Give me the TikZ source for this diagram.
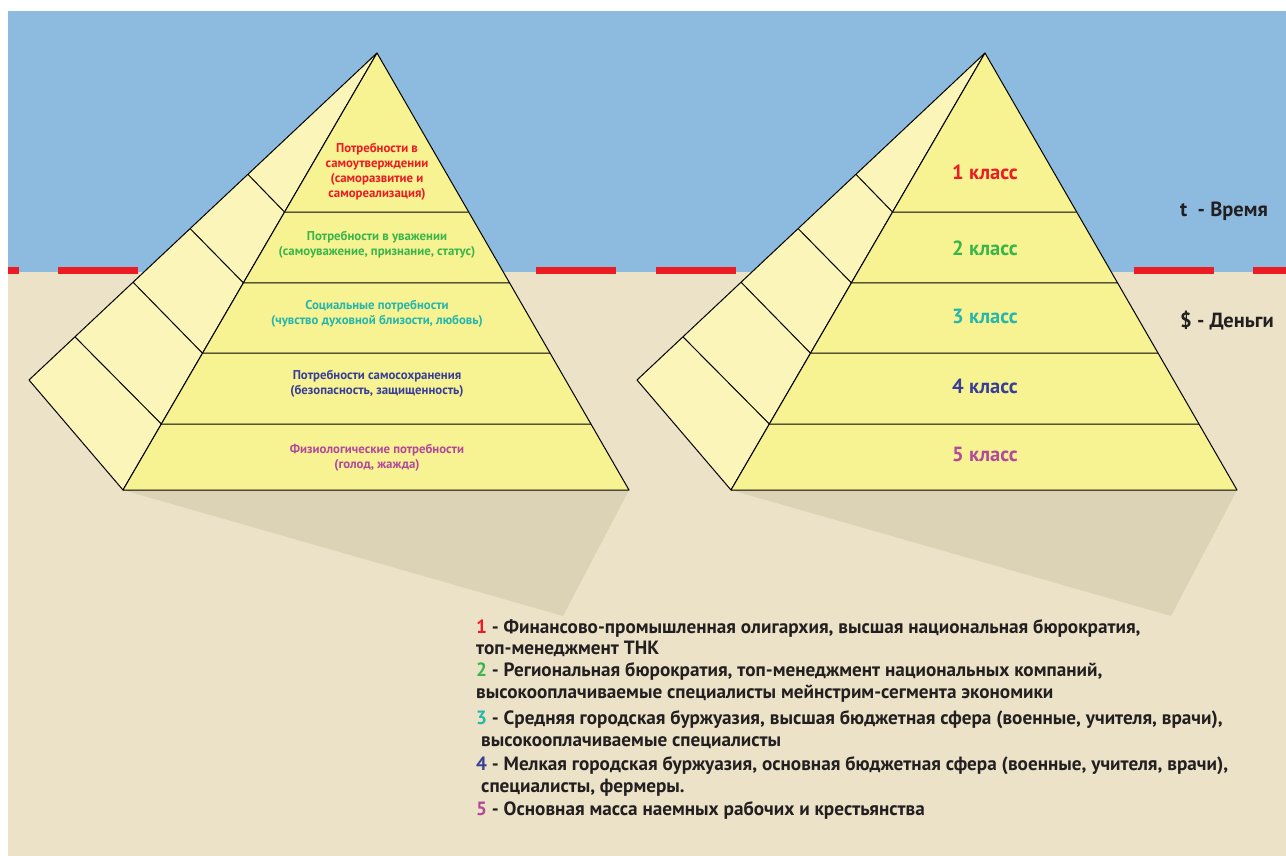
\documentclass[tikz,border=0pt]{standalone}
\usepackage{fontspec}
\setmainfont{PT Sans}
\usetikzlibrary{calc}

\definecolor{sky}{RGB}{141,187,224}
\definecolor{ground}{RGB}{235,226,199}
\definecolor{shadowc}{RGB}{220,210,182}
\definecolor{frontc}{RGB}{247,242,146}
\definecolor{sidec}{RGB}{252,245,185}
\definecolor{cred}{RGB}{237,28,36}
\definecolor{cgreen}{RGB}{57,181,74}
\definecolor{cteal}{RGB}{38,182,171}
\definecolor{cblue}{RGB}{57,63,151}
\definecolor{cmag}{RGB}{179,73,155}
\definecolor{ink}{RGB}{35,31,32}

\begin{document}
\begin{tikzpicture}[x=1pt,y=-1pt,
  edge/.style={draw=black,line width=1pt,line join=round},
  front/.style={edge,fill=frontc},
  side/.style={edge,fill=sidec},
  need/.style={font=\bfseries\fontsize{12.8}{15}\selectfont,align=center,inner sep=0pt},
  klass/.style={font=\bfseries\fontsize{20.5}{22}\selectfont,inner sep=0pt},
  legend/.style={anchor=base west,font=\bfseries\fontsize{19.2}{22}\selectfont,text=ink,inner sep=0pt}]
\useasboundingbox (0,0) rectangle (1286,856);
% sky, ground and the border line
\fill[sky] (8,11) rectangle (1286,272);
\fill[ground] (8,272) rectangle (1286,856);
\draw[cred,line width=6.5pt,dash pattern=on 80pt off 39.5pt,dash phase=69.5pt] (8,270.5) -- (1286,270.5);
% two pyramids
\foreach \p/\dx in {l/0,r/608}{
\begin{scope}[xshift=\dx]
\coordinate (top\p) at (377,53);
\coordinate (bl\p) at (123,490);
\coordinate (br\p) at (629,490);
\coordinate (out\p) at (29,380);
\coordinate (tip\p) at (563,616);
\fill[shadowc] (bl\p) -- (br\p) -- (tip\p) -- cycle;
\filldraw[side] (top\p) -- (out\p) -- (bl\p) -- cycle;
\filldraw[front] (top\p) -- (bl\p) -- (br\p) -- cycle;
\foreach \a/\b in {0.364/0.371,0.526/0.537,0.687/0.701,0.849/0.868}
  \draw[edge] ($(top\p)!\a!(br\p)$) -- ($(top\p)!\a!(bl\p)$) -- ($(top\p)!\b!(out\p)$);
\end{scope}
}
% needs
\node[need,text=cred] (selfreal) at (377,171.5) {Потребности в\\самоутверждении\\(саморазвитие и\\самореализация)};
\node[need,text=cgreen] (esteem) at (377,245) {Потребности в уважении\\(самоуважение, признание, статус)};
\node[need,text=cteal] (social) at (377,313.5) {Социальные потребности\\(чувство духовной близости, любовь)};
\node[need,text=cblue] (safety) at (377,383.5) {Потребности самосохранения\\(безопасность, защищенность)};
\node[need,text=cmag] (physio) at (377,457.5) {Физиологические потребности\\(голод, жажда)};
% classes
\node[klass,text=cred] (class1) at (985,172) {1 класс};
\node[klass,text=cgreen] (class2) at (985,248) {2 класс};
\node[klass,text=cteal] (class3) at (985,316) {3 класс};
\node[klass,text=cblue] (class4) at (985,386) {4 класс};
\node[klass,text=cmag] (class5) at (985,454) {5 класс};
\node[klass,text=ink,anchor=west] (time) at (1180,211) {t\ \ - Время};
\node[klass,text=ink,anchor=west] (money) at (1180,321) {\$ - Деньги};
% legend
\node[legend] (leg1a) at (476,633) {\textcolor{cred}{1} - Финансово-промышленная олигархия, высшая национальная бюрократия,};
\node[legend] (leg1b) at (476,654) {топ-менеджмент ТНК};
\node[legend] (leg2a) at (476,676) {\textcolor{cgreen}{2} - Региональная бюрократия, топ-менеджмент национальных компаний,};
\node[legend] (leg2b) at (476,698) {высокооплачиваемые специалисты мейнстрим-сегмента экономики};
\node[legend] (leg3a) at (476,724) {\textcolor{cteal}{3} - Средняя городская буржуазия, высшая бюджетная сфера (военные, учителя, врачи),};
\node[legend] (leg3b) at (481,746) {высокооплачиваемые специалисты};
\node[legend] (leg4a) at (476,770) {\textcolor{cblue}{4} - Мелкая городская буржуазия, основная бюджетная сфера (военные, учителя, врачи),};
\node[legend] (leg4b) at (481,792) {специалисты, фермеры.};
\node[legend] (leg5) at (476,815) {\textcolor{cmag}{5} - Основная масса наемных рабочих и крестьянства};
\end{tikzpicture}
\end{document}
